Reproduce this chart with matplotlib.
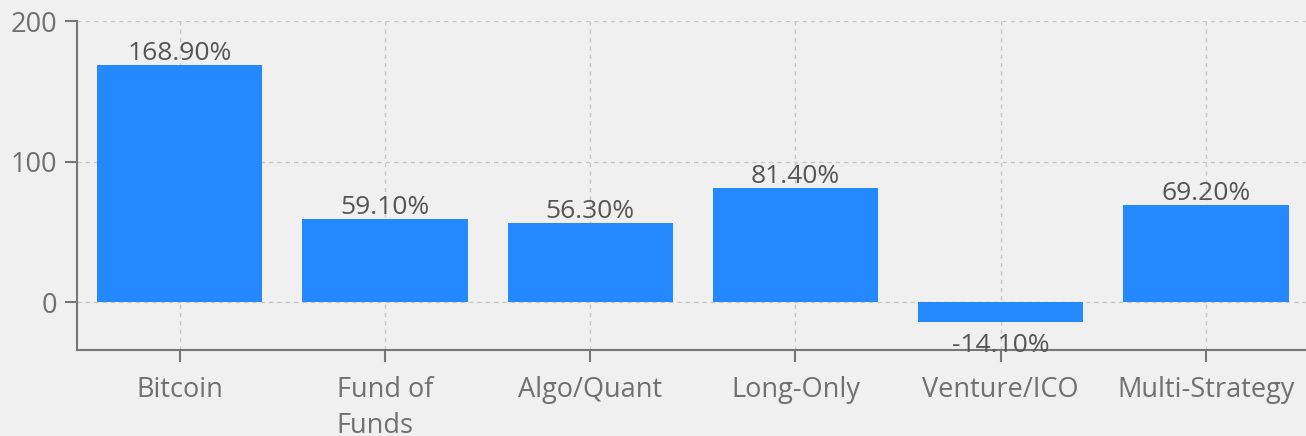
import matplotlib
matplotlib.use("Agg")
from matplotlib import pyplot as plt

categories = ["Bitcoin", "Fund of\nFunds", "Algo/Quant", "Long-Only", "Venture/ICO", "Multi-Strategy"]
returns = [168.9, 59.1, 56.3, 81.4, -14.1, 69.2]
y_ticks = [0, 100, 200]

BG = "#f0f0f0"
BAR = "#2489ff"
AXIS = "#777777"
GRID = "#c8c8c8"

plt.rcParams["font.family"] = ["Open Sans", "DejaVu Sans"]

fig = plt.figure(figsize=(13.06, 4.36), dpi=100, facecolor=BG)
ax = fig.add_axes([77 / 1306, 1 - 350 / 436, 1 - 77 / 1306 + 0.002, (350 - 21) / 436])
ax.set_facecolor(BG)

x = list(range(len(categories)))
ax.bar(x, returns, width=0.805, color=BAR, zorder=2)

for xi, v in zip(x, returns):
    if v >= 0:
        ax.annotate(f"{v:.2f}%", (xi, v), xytext=(0, -1), textcoords="offset points",
                    ha="center", va="bottom", fontsize=19, color="#555555", zorder=3)
    else:
        ax.annotate(f"{v:.2f}%", (xi, v), xytext=(0, -8), textcoords="offset points",
                    ha="center", va="top", fontsize=19, color="#555555", zorder=3)

ax.set_xlim(-0.5, len(categories) - 0.5)
ax.set_ylim(-34, 200)
ax.set_xticks(x)
ax.set_xticklabels(categories, linespacing=1.4, multialignment="left")
ax.set_yticks(y_ticks)

ax.grid(True, linestyle=(0, (3, 3)), color=GRID, linewidth=1, zorder=1)
ax.set_axisbelow(True)

for side in ["top", "right"]:
    ax.spines[side].set_visible(False)
for side in ["left", "bottom"]:
    ax.spines[side].set_color(AXIS)
    ax.spines[side].set_linewidth(1.5)

ax.tick_params(axis="both", colors=AXIS, labelcolor="#707070", labelsize=19.5,
               length=8.5, width=1.5, direction="out")
ax.tick_params(axis="x", pad=10)
ax.tick_params(axis="y", pad=6)

fig.savefig("out.png", dpi=100, facecolor=BG)
